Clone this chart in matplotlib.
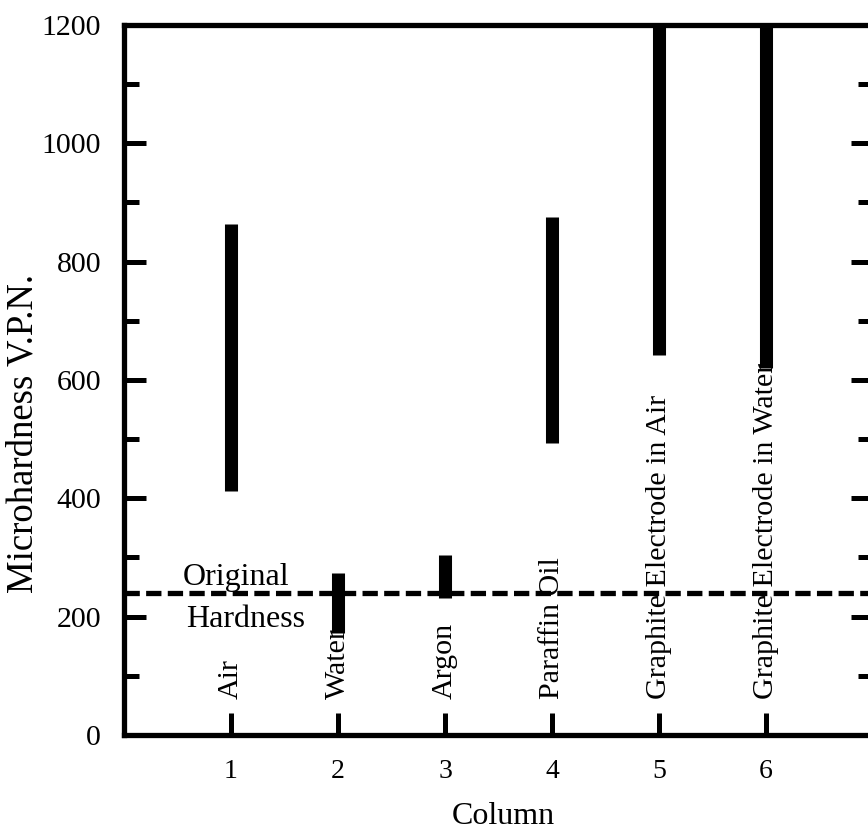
import numpy as np
import matplotlib.pyplot as plt
from matplotlib.ticker import MultipleLocator

plt.rcParams['font.family'] = ['Liberation Serif', 'DejaVu Serif']

# hardness ranges for each quenching medium
columns = [1, 2, 3, 4, 5, 6]
media = ['Air', 'Water', 'Argon', 'Paraffin Oil',
         'Graphite Electrode in Air', 'Graphite Electrode in Water']
hv_low = [412, 172, 231, 493, 642, 620]
hv_high = [864, 274, 304, 875, 1200, 1200]
original_hardness = 240

fig = plt.figure(figsize=(8.68, 8.30), dpi=100)
ax = fig.add_axes([0.1429, 0.1145, 0.8629, 0.8554])

# vertical range bars
ax.vlines(columns, hv_low, hv_high, colors='black', linewidth=9.4,
          capstyle='butt', zorder=3)

# original hardness reference line
ax.axhline(original_hardness, color='black', linewidth=3.8,
           linestyle=(0, (2.9, 1.2)), zorder=2)
ax.text(0.55, 253, 'Original', fontsize=23, ha='left', va='baseline')
ax.text(0.58, 183, 'Hardness', fontsize=23, ha='left', va='baseline')

# medium names written upright above each column tick
for x, name in zip(columns, media):
    ax.text(x, 60, name, rotation=90, fontsize=21.6, ha='center',
            va='bottom')

ax.set_xlim(0, 7)
ax.set_ylim(0, 1200)
ax.set_xticks(columns)
ax.yaxis.set_major_locator(MultipleLocator(200))
ax.yaxis.set_minor_locator(MultipleLocator(100))

ax.tick_params(axis='both', which='major', direction='in', length=16,
               width=3.6)
ax.tick_params(axis='x', labelsize=20, pad=17)
ax.tick_params(axis='y', labelsize=21.5, pad=16.5)
ax.tick_params(axis='y', which='minor', direction='in', length=11, width=3.6)
ax.tick_params(axis='y', which='both', right=True)
ax.tick_params(axis='x', which='both', top=False)

for spine in ax.spines.values():
    spine.set_linewidth(3.8)

ax.set_xlabel('Column', fontsize=23)
ax.set_ylabel('Microhardness V.P.N.', fontsize=26.5)
ax.xaxis.set_label_coords(0.507, -0.095)
ax.yaxis.set_label_coords(-0.111, 0.425)

fig.savefig('out.png', dpi=100)
